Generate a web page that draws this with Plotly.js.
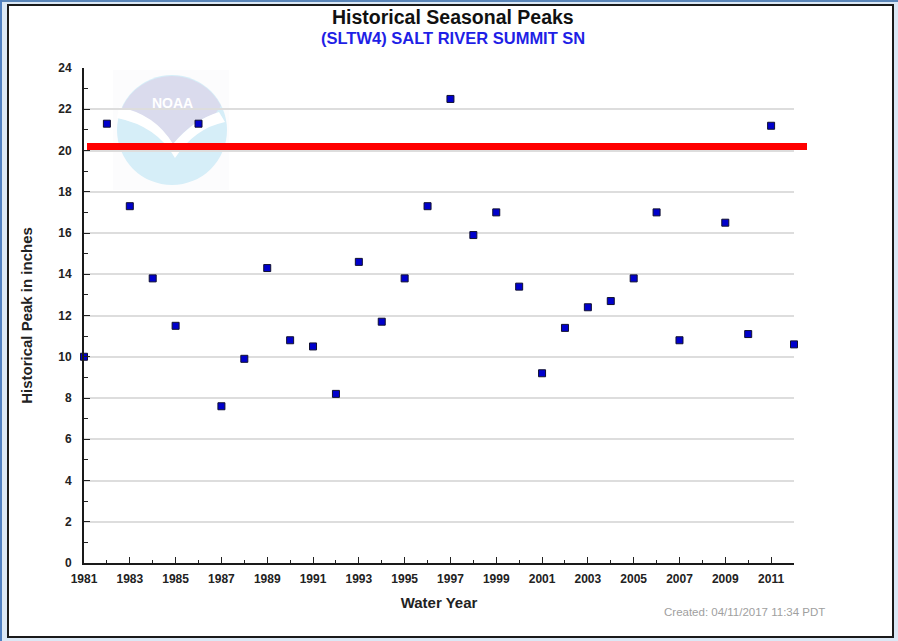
<!DOCTYPE html>
<html>
<head>
<meta charset="utf-8">
<script src="https://cdn.plot.ly/plotly-3.0.1.min.js"></script>
<style>
  html, body { margin: 0; padding: 0; width: 898px; height: 641px; overflow: hidden; background: #dbe8f5; }
  #topbar { position: absolute; left: 0; top: 0; width: 898px; height: 2px; background: #5a85b8; }
  #leftbar { position: absolute; left: 0; top: 0; width: 2px; height: 641px; background: #4f7fc0; }
  #frame { position: absolute; left: 7px; top: 4px; width: 887px; height: 634px; box-sizing: border-box; border: 2px solid #1a1a1a; background: #ffffff; }
  #chart { position: absolute; left: 0; top: 0; width: 898px; height: 641px; }
</style>
</head>
<body>
<div id="topbar"></div>
<div id="leftbar"></div>
<div id="frame"></div>
<div id="chart"></div>
<script>
// ---- Data ----
const waterYears = [1981, 1982, 1983, 1984, 1985, 1986, 1987, 1988, 1989, 1990,
                    1991, 1992, 1993, 1994, 1995, 1996, 1997, 1998, 1999, 2000,
                    2001, 2002, 2003, 2004, 2005, 2006, 2007, 2009, 2010, 2011, 2012];
const peakInches = [10.0, 21.3, 17.3, 13.8, 11.5, 21.3, 7.6, 9.9, 14.3, 10.8,
                    10.5, 8.2, 14.6, 11.7, 13.8, 17.3, 22.5, 15.9, 17.0, 13.4,
                    9.2, 11.4, 12.4, 12.7, 13.8, 17.0, 10.8, 16.5, 11.1, 21.2, 10.6];
const thresholdValue = [20.2];
const xTickVals = [1981, 1983, 1985, 1987, 1989, 1991, 1993, 1995, 1997, 1999,
                   2001, 2003, 2005, 2007, 2009, 2011];
const xTickText = xTickVals.map(String);
const yTickVals = [0, 2, 4, 6, 8, 10, 12, 14, 16, 18, 20, 22, 24];

const chartTitle = "Historical Seasonal Peaks";
const chartSubtitle = "(SLTW4) SALT RIVER SUMMIT SN";
const xTitle = "Water Year";
const yTitle = "Historical Peak in inches";
const createdText = "Created: 04/11/2017 11:34 PDT";

const FONT = "Liberation Sans, Arial, Helvetica, sans-serif";

// NOAA watermark logo (decorative) as inline SVG
const logoSvg =
  "<svg xmlns='http://www.w3.org/2000/svg' width='116' height='120' viewBox='0 0 116 120'>" +
  "<rect x='0' y='0' width='116' height='120' fill='#fcfcfd'/>" +
  "<circle cx='59' cy='60' r='55' fill='#d6eef8'/>" +
  "<path d='M 9,38 A 55 55 0 0 1 108,36 L 102,44 Q 80,50 60,74 Q 42,46 9,38 Z' fill='#dadbed'/>" +
  "<path d='M 6,37 Q 42,44 60,74 Q 80,50 106,42 L 112,52 Q 82,58 62,88 Q 44,56 4,48 Z' fill='#ffffff'/>" +
  "</svg>";
const logoSrc = "data:image/svg+xml;charset=utf-8," + encodeURIComponent(logoSvg);

const traces = [{
  type: "scatter",
  mode: "markers",
  x: waterYears,
  y: peakInches,
  marker: { symbol: "square", size: 7, color: "#0000cc", line: { color: "#101030", width: 1 } },
  cliponaxis: false,
  hoverinfo: "x+y",
  showlegend: false
}];

const layout = {
  width: 898,
  height: 641,
  margin: { l: 84, r: 104, t: 68, b: 78, pad: 0 },
  paper_bgcolor: "rgba(0,0,0,0)",
  plot_bgcolor: "rgba(0,0,0,0)",
  font: { family: FONT, color: "#222222" },
  showlegend: false,
  xaxis: {
    range: [1981, 2012],
    tickmode: "array",
    tickvals: xTickVals,
    ticktext: xTickText,
    ticks: "inside",
    ticklen: 6,
    tickwidth: 1,
    tickcolor: "#222222",
    ticklabelstandoff: 4,
    minor: { dtick: 1, tick0: 1981, ticks: "inside", ticklen: 3, tickcolor: "#222222", showgrid: false },
    showgrid: false,
    zeroline: false,
    showline: true,
    linecolor: "#1a1a1a",
    linewidth: 2,
    tickfont: { family: FONT, size: 12, color: "#222222", weight: "bold" },
    title: { text: xTitle, font: { family: FONT, size: 15, color: "#222222", weight: "bold" }, standoff: 12 },
    fixedrange: true
  },
  yaxis: {
    range: [0, 24],
    tickmode: "array",
    tickvals: yTickVals,
    ticks: "inside",
    ticklen: 6,
    tickwidth: 1,
    tickcolor: "#222222",
    ticklabelstandoff: 8,
    minor: { dtick: 1, tick0: 0, ticks: "inside", ticklen: 4, tickcolor: "#222222", showgrid: false },
    showgrid: true,
    gridcolor: "#dddddd",
    gridwidth: 2,
    zeroline: false,
    showline: true,
    linecolor: "#1a1a1a",
    linewidth: 2,
    tickfont: { family: FONT, size: 12, color: "#222222", weight: "bold" },
    title: { text: yTitle, font: { family: FONT, size: 15, color: "#222222", weight: "bold" }, standoff: 22 },
    fixedrange: true
  },
  shapes: [{
    type: "line",
    xref: "paper", yref: "y",
    x0: 3 / 710, x1: 723 / 710,
    y0: thresholdValue[0], y1: thresholdValue[0],
    line: { color: "#ff0000", width: 7 },
    layer: "above"
  }],
  images: [{
    source: logoSrc,
    xref: "paper", yref: "paper",
    x: 29 / 710, y: 493 / 495,
    sizex: 116 / 710, sizey: 120 / 495,
    xanchor: "left", yanchor: "top",
    sizing: "stretch",
    layer: "below"
  }],
  annotations: [
    {
      text: chartTitle,
      xref: "paper", yref: "paper",
      x: 369 / 710, y: (563 - 17) / 495,
      xanchor: "center", yanchor: "middle",
      showarrow: false,
      font: { family: FONT, size: 19.5, color: "#111111", weight: "bold" }
    },
    {
      text: chartSubtitle,
      xref: "paper", yref: "paper",
      x: 369 / 710, y: (563 - 38) / 495,
      xanchor: "center", yanchor: "middle",
      showarrow: false,
      font: { family: FONT, size: 16.5, color: "#1f1fe6", weight: "bold" }
    },
    {
      text: "NOAA",
      xref: "paper", yref: "paper",
      x: 88 / 710, y: 460 / 495,
      xanchor: "center", yanchor: "middle",
      showarrow: false,
      font: { family: FONT, size: 14, color: "#ffffff", weight: "bold" }
    },
    {
      text: createdText,
      xref: "paper", yref: "paper",
      x: 578 / 710, y: -49 / 495,
      xanchor: "left", yanchor: "middle",
      showarrow: false,
      font: { family: FONT, size: 11.5, color: "#a0a0a0" }
    }
  ]
};

Plotly.newPlot("chart", traces, layout, { displayModeBar: false, staticPlot: true });
</script>
</body>
</html>
